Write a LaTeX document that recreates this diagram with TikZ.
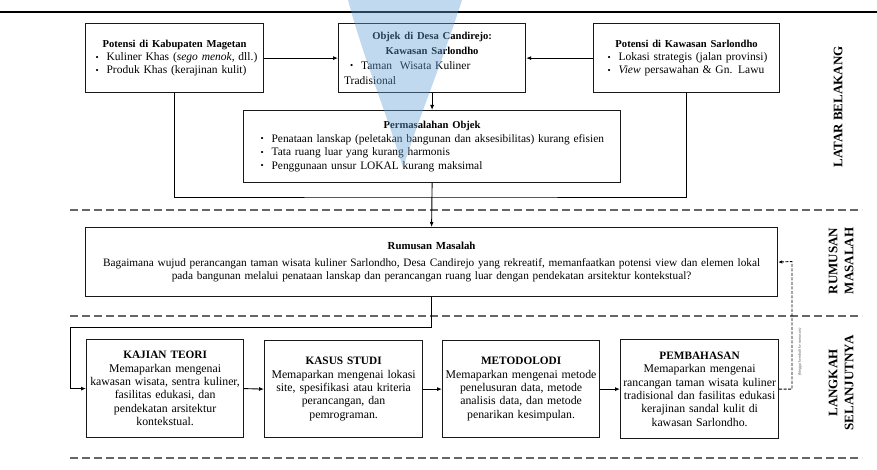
\documentclass[tikz,border=0pt]{standalone}
\usepackage{fontspec}
\setmainfont{Liberation Serif}
\usetikzlibrary{arrows.meta}
\definecolor{wm}{RGB}{100,160,212}
\newcommand\fs[2]{\fontsize{#1}{#2}\selectfont}
\newcommand\bul{\makebox[11pt][l]{\raisebox{0.1ex}{\fontsize{9}{9}\selectfont\textbullet}}}
\newcommand\lline[2]{\makebox[#1][l]{#2}}
\begin{document}
\begin{tikzpicture}[x=1pt,y=-1pt,
  box/.style={draw=black!90, line width=1.2pt, inner sep=0pt, anchor=north west, align=center},
  arr/.style={line width=0.9pt, -{Latex[length=5pt,width=4pt]}},
  ln/.style={line width=0.9pt},
  sep/.style={draw=black!60, line width=2pt, dash pattern=on 8pt off 4pt},
  dasharr/.style={line width=0.9pt, dash pattern=on 3pt off 1.5pt, -{Latex[length=4pt,width=3.5pt]}},
  side/.style={rotate=90, font=\fs{13}{16}\bfseries, align=center}
]
\useasboundingbox (0,0) rectangle (877,470);

% frame line
\draw[line width=2pt] (0,12) -- (877,12);

% separators
\draw[sep] (70,210) -- (862,210);
\draw[sep] (70,316) -- (862,316);
\draw[sep] (70,458) -- (862,458);

% top boxes
\node[box, text width=178pt, minimum height=69pt, font=\fs{11.5}{13.3}] (A) at (85,23)
 {{\bfseries\fs{10.6}{13.3}Potensi di Kabupaten Magetan}\\
  \lline{158pt}{\bul Kuliner Khas (\textit{sego menok}, dll.)}\\
  \lline{158pt}{\bul Produk Khas (kerajinan kulit)}};

\node[box, text width=187pt, minimum height=69pt, font=\fs{11.5}{15}] (B) at (338,23)
 {{\bfseries\fs{10.6}{15}Objek di Desa Candirejo:}\\
  {\bfseries\fs{10.6}{15}Kawasan Sarlondho}\\
  \lline{176pt}{\hspace{6pt}\bul Taman\ \ Wisata Kuliner}\\
  \lline{176pt}{Tradisional}};

\node[box, text width=186pt, minimum height=69pt, font=\fs{11.5}{13.3}] (C) at (593,23)
 {{\bfseries\fs{10.6}{13.3}Potensi di Kawasan Sarlondho}\\
  \lline{158pt}{\bul Lokasi strategis (jalan provinsi)}\\
  \lline{158pt}{\bul \textit{View} persawahan \& Gn. Lawu}};

\node[box, text width=377pt, minimum height=72pt, font=\fs{11.4}{13.5}] (D) at (243,110)
 {{\bfseries\fs{10.6}{13.5}Permasalahan Objek}\\
  \lline{343pt}{\bul Penataan lanskap (peletakan bangunan dan aksesibilitas) kurang efisien}\\
  \lline{343pt}{\bul Tata ruang luar yang kurang harmonis}\\
  \lline{343pt}{\bul Penggunaan unsur LOKAL kurang maksimal}};

\node[box, text width=692pt, minimum height=69pt, font=\fs{11.3}{13.3}] (E) at (85,227)
 {{\bfseries\fs{10.8}{13.3}Rumusan Masalah}\\[3pt]
  Bagaimana wujud perancangan taman wisata kuliner Sarlondho, Desa Candirejo yang rekreatif, memanfaatkan potensi view dan elemen lokal\\
  pada bangunan melalui penataan lanskap dan perancangan ruang luar dengan pendekatan arsitektur kontekstual?};

% bottom boxes
\node[box, text width=157pt, minimum height=98pt, font=\fs{11.8}{13.4}] (F) at (86,339)
 {{\bfseries\fs{11.3}{13.4}KAJIAN TEORI}\\
  Memaparkan mengenai\\ kawasan wisata, sentra kuliner,\\ fasilitas edukasi, dan\\ pendekatan arsitektur\\ kontekstual.};
\node[box, text width=158pt, minimum height=97pt, font=\fs{11.8}{13.4}] (G) at (264,340)
 {{\bfseries\fs{11.3}{13.4}KASUS STUDI}\\
  Memaparkan mengenai lokasi\\ site, spesifikasi atau kriteria\\ perancangan, dan\\ pemrograman.};
\node[box, text width=157pt, minimum height=97pt, font=\fs{11.8}{13.4}] (H) at (442,340)
 {{\bfseries\fs{11.3}{13.4}METODOLODI}\\
  Memaparkan mengenai metode\\ penelusuran data, metode\\ analisis data, dan metode\\ penarikan kesimpulan.};
\node[box, text width=158pt, minimum height=99pt, font=\fs{11.8}{13.4}] (I) at (620,339)
 {{\bfseries\fs{11.3}{13.4}PEMBAHASAN}\\
  Memaparkan mengenai\\ rancangan taman wisata kuliner\\ tradisional dan fasilitas edukasi\\ kerajinan sandal kulit di\\ kawasan Sarlondho.};

% connectors
\coordinate (J) at (431.5,197);
\coordinate (K) at (70,327);
\coordinate (L) at (792,261.5);
\draw[arr] (A.east) -- (B.west);
\draw[arr] (C.west) -- (B.east);
\draw[arr] (B.south) -- (D.north);
\draw[ln] (A.south) |- (J) -| (C.south);
\draw[arr] (D.south) -- (E.north);
\draw[arr] (E.south) |- (K) |- (F.west);
\draw[arr] (F.east) -- (G.west);
\draw[arr] (G.east) -- (H.west);
\draw[arr] (H.east) -- (I.west);
\draw[dasharr] (I.east) -| (L) -- (E.east);

% side labels
\node[side] (lb) at (838,107) {LATAR BELAKANG};
\node[side] (rm) at (841,261) {RUMUSAN\\MASALAH};
\node[side] (ls) at (841,383) {LANGKAH\\SELANJUTNYA};
\node[rotate=90, font=\fs{4}{4}\itshape, text=black!70] (note) at (800,352) {(hingga kembali ke rumusan)};

% watermark
\fill[wm, fill opacity=0.4] (348,0) .. controls (364,60) and (389,120) .. (403,168)
  .. controls (418,120) and (443,60) .. (462,0) -- cycle;
\end{tikzpicture}
\end{document}
